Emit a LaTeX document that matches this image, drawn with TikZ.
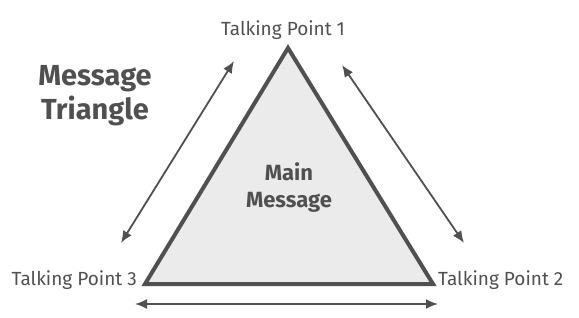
\documentclass[tikz,border=0pt]{standalone}
\usepackage{fontspec}
\setmainfont{Fira Sans}
\usetikzlibrary{arrows.meta,positioning}
\definecolor{TG}{HTML}{505050}
\definecolor{TF}{HTML}{EBEBEB}

\begin{document}
\begin{tikzpicture}[x=1pt,y=-1pt,
    tpoint/.style={text=TG, inner sep=0pt,
      font=\fontsize{19}{22}\selectfont},
    title/.style={text=TG, inner sep=0pt, align=center,
      font=\fontsize{29}{34}\selectfont\bfseries},
    link/.style={TG, line width=1.8pt,
      {Latex[length=12pt,width=10pt]}-{Latex[length=12pt,width=10pt]}}]
  \useasboundingbox (0,0) rectangle (579,318);
  % corners of the triangle
  \coordinate (top) at (288,48);
  \coordinate (left) at (145,284);
  \coordinate (right) at (433,284);
  \draw[TG, fill=TF, line width=4pt, line join=miter]
    (top) -- (right) -- (left) -- cycle;
  \node[title, font=\fontsize{22}{27}\selectfont\bfseries]
    (main) at (289,188) {Main\\Message};
  \node[title] (heading) at (95,96) {Message\\Triangle};
  % labels at the corners
  \node[tpoint, anchor=base] (tp1) at (283,36) {Talking Point 1};
  \node[tpoint, anchor=base west] (tp2) at (438,285) {Talking Point 2};
  \node[tpoint, anchor=base east] (tp3) at (137,285) {Talking Point 3};
  % ends of the arrows
  \coordinate (a1) at (234,61);
  \coordinate (a2) at (121,243);
  \coordinate (b1) at (342,65);
  \coordinate (b2) at (464,243);
  \coordinate (c1) at (135,304);
  \coordinate (c2) at (438,304);
  \draw[link] (a1) -- (a2);
  \draw[link] (b1) -- (b2);
  \draw[link] (c1) -- (c2);
\end{tikzpicture}
\end{document}
